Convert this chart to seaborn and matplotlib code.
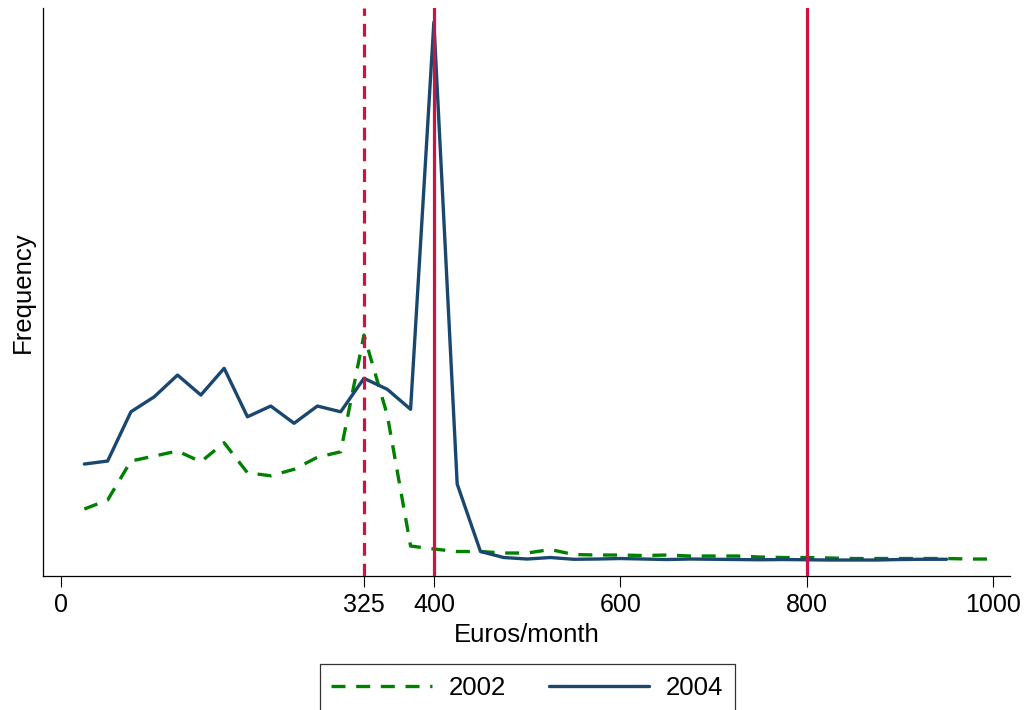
import numpy as np
import pandas as pd
import matplotlib
matplotlib.use("Agg")
import matplotlib.pyplot as plt
import seaborn as sns

# --- data (frequency, arbitrary units) ---
euros_2002 = [25, 50, 75, 100, 125, 150, 175, 200, 225, 250, 275, 300, 325, 350, 375,
              400, 425, 450, 475, 500, 525, 550, 575, 600, 625, 650, 675, 700, 725, 750,
              775, 800, 825, 850, 875, 900, 925, 950, 975, 1000]
freq_2002 = [2.68, 3.04, 4.60, 4.80, 5.00, 4.57, 5.33, 4.13, 4.01, 4.27, 4.75, 4.97, 9.64, 6.44, 1.20,
             1.08, 0.98, 0.98, 0.92, 0.92, 1.06, 0.86, 0.84, 0.84, 0.82, 0.84, 0.80, 0.80, 0.80, 0.76,
             0.74, 0.74, 0.72, 0.70, 0.70, 0.70, 0.70, 0.70, 0.68, 0.68]

euros_2004 = [25, 50, 75, 100, 125, 150, 175, 200, 225, 250, 275, 300, 325, 350, 375,
              400, 425, 450, 475, 500, 525, 550, 575, 600, 625, 650, 675, 700, 725, 750,
              775, 800, 825, 850, 875, 900, 925, 950]
freq_2004 = [4.48, 4.60, 6.57, 7.17, 8.04, 7.24, 8.31, 6.37, 6.80, 6.11, 6.80, 6.57, 7.91, 7.47, 6.67,
             22.16, 3.68, 0.98, 0.74, 0.68, 0.74, 0.67, 0.68, 0.70, 0.68, 0.66, 0.68, 0.67, 0.66, 0.65,
             0.66, 0.65, 0.64, 0.64, 0.64, 0.66, 0.67, 0.67]

xticks = [0, 325, 400, 600, 800, 1000]
xlines_dashed = [325]
xlines_solid = [400, 800]

df = pd.concat([
    pd.DataFrame({"euros": euros_2002, "freq": freq_2002, "year": "2002"}),
    pd.DataFrame({"euros": euros_2004, "freq": freq_2004, "year": "2004"}),
])

sns.set_style("white")
plt.rcParams["font.family"] = ["Liberation Sans", "DejaVu Sans"]
plt.rcParams["text.color"] = "black"
plt.rcParams["axes.labelcolor"] = "black"
plt.rcParams["xtick.color"] = "black"

fig = plt.figure(figsize=(10.27, 7.10), dpi=100)
ax = fig.add_axes([0.0419, 0.1887, 0.9415, 0.7999])

green = "#008000"
navy = "#1A476F"
red = "#CC1444"

sns.lineplot(data=df[df.year == "2002"], x="euros", y="freq", ax=ax, color=green,
             lw=2.4, linestyle=(0, (4.2, 3.2)), label="2002")
sns.lineplot(data=df[df.year == "2004"], x="euros", y="freq", ax=ax, color=navy,
             lw=2.4, label="2004")

for v in xlines_dashed:
    ax.axvline(v, color=red, lw=2.3, linestyle=(0, (4, 2.5)), zorder=5)
for v in xlines_solid:
    ax.axvline(v, color=red, lw=2.3, zorder=5)

ax.set_xlim(-19.3, 1018)
ax.set_ylim(0, 22.72)
ax.set_xticks(xticks)
ax.set_yticks([])
ax.tick_params(axis="x", direction="out", length=8, width=0.8, pad=4.5,
               labelsize=18, bottom=True, color="black", labelcolor="black")

ax.set_xlabel("Euros/month", fontsize=18.5, labelpad=4)
ax.set_ylabel("Frequency", fontsize=18.5, labelpad=6)

for s in ["top", "right"]:
    ax.spines[s].set_visible(False)
for s in ["left", "bottom"]:
    ax.spines[s].set_color("black")
    ax.spines[s].set_linewidth(0.9)

leg = ax.legend(loc="upper center", bbox_to_anchor=(0.5136, 0.0648),
                bbox_transform=fig.transFigure, ncol=2, fontsize=18.5,
                frameon=True, fancybox=False, handlelength=3.9, handletextpad=0.65,
                columnspacing=1.7, borderpad=0.45, borderaxespad=0)
leg.get_frame().set_edgecolor("black")
leg.get_frame().set_linewidth(0.9)
for t in leg.get_texts():
    t.set_color("black")

fig.savefig("out.png", dpi=100)
